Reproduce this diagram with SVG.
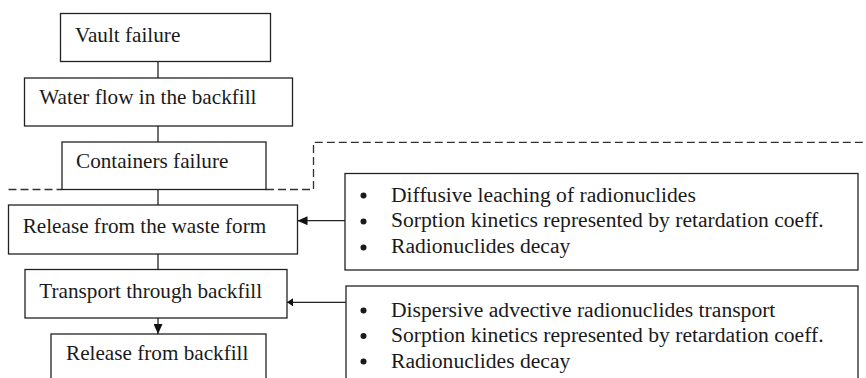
<svg xmlns="http://www.w3.org/2000/svg" width="866" height="378" viewBox="0 0 866 378">
<style>
.box{fill:#fff;stroke:#222;stroke-width:1.3}
.t{font-family:"Liberation Serif","Times New Roman",serif;font-size:21.2px;fill:#1a1a1a}
.tb{font-family:"Liberation Serif","Times New Roman",serif;font-size:21.6px;fill:#1a1a1a}
.c{stroke:#222;stroke-width:1.3;fill:none}
.d{stroke:#333;stroke-width:1.3;fill:none;stroke-dasharray:8,4}
.b{fill:#1a1a1a}
</style>
<defs>
<marker id="ah" markerWidth="10" markerHeight="9" refX="10" refY="4.5" orient="auto" markerUnits="userSpaceOnUse">
<path d="M0,0 L10,4.5 L0,9 Z" fill="#111"/>
</marker>
<marker id="ahs" markerWidth="6" markerHeight="8" refX="6" refY="4" orient="auto" markerUnits="userSpaceOnUse">
<path d="M0,0 L6,4 L0,8 Z" fill="#111"/>
</marker>
</defs>
<rect width="866" height="378" fill="#fff"/>
<g id="boundary">
<path class="d" d="M8.5,189.5 H62 M266,189.5 H313.5 V142.3 H866"/>
</g>
<g id="connectors">
<line class="c" x1="158" y1="61.5" x2="158" y2="78"/>
<line class="c" x1="158" y1="126" x2="158" y2="142"/>
<line class="c" x1="158" y1="189.5" x2="158" y2="205"/>
<line class="c" x1="158" y1="254" x2="158" y2="269.5"/>
<line class="c" x1="158" y1="318" x2="158" y2="334" marker-end="url(#ah)"/>
<line class="c" x1="345" y1="220.7" x2="297.5" y2="220.7" marker-end="url(#ah)"/>
<line class="c" x1="346" y1="302.3" x2="287" y2="302.3" marker-end="url(#ahs)"/>
</g>
<g id="vault">
<rect class="box" x="60.5" y="13.5" width="210" height="48"/>
<text class="t" x="75" y="41.5">Vault failure</text>
</g>
<g id="water">
<rect class="box" x="24.5" y="78" width="268" height="48"/>
<text class="t" x="39.3" y="103.5">Water flow in the backfill</text>
</g>
<g id="containers">
<rect class="box" x="62" y="142" width="204" height="47.5"/>
<text class="t" x="76" y="168.3">Containers failure</text>
</g>
<g id="release-waste">
<rect class="box" x="8.5" y="205" width="289" height="49"/>
<text class="t" x="22.7" y="233.3">Release from the waste form</text>
</g>
<g id="transport">
<rect class="box" x="25" y="269.5" width="262" height="48.5"/>
<text class="t" x="39.3" y="297.5">Transport through backfill</text>
</g>
<g id="release-backfill">
<rect class="box" x="51" y="334" width="215" height="60"/>
<text class="t" x="66" y="360">Release from backfill</text>
</g>
<g id="waste-processes">
<rect class="box" x="345" y="173.5" width="513" height="96.5"/>
<circle class="b" cx="363.5" cy="195.5" r="3"/>
<circle class="b" cx="363.5" cy="221.5" r="3"/>
<circle class="b" cx="363.5" cy="247.5" r="3"/>
<text class="tb" x="391" y="201.7">Diffusive leaching of radionuclides</text>
<text class="tb" x="391" y="227.3">Sorption kinetics represented by retardation coeff.</text>
<text class="tb" x="391" y="252.8">Radionuclides decay</text>
</g>
<g id="backfill-processes">
<rect class="box" x="346" y="286" width="512" height="110"/>
<circle class="b" cx="363.5" cy="310.5" r="3"/>
<circle class="b" cx="363.5" cy="336" r="3"/>
<circle class="b" cx="363.5" cy="361.5" r="3"/>
<text class="tb" x="391" y="316.7">Dispersive advective radionuclides transport</text>
<text class="tb" x="391" y="342.2">Sorption kinetics represented by retardation coeff.</text>
<text class="tb" x="391" y="367.7">Radionuclides decay</text>
</g>
</svg>
